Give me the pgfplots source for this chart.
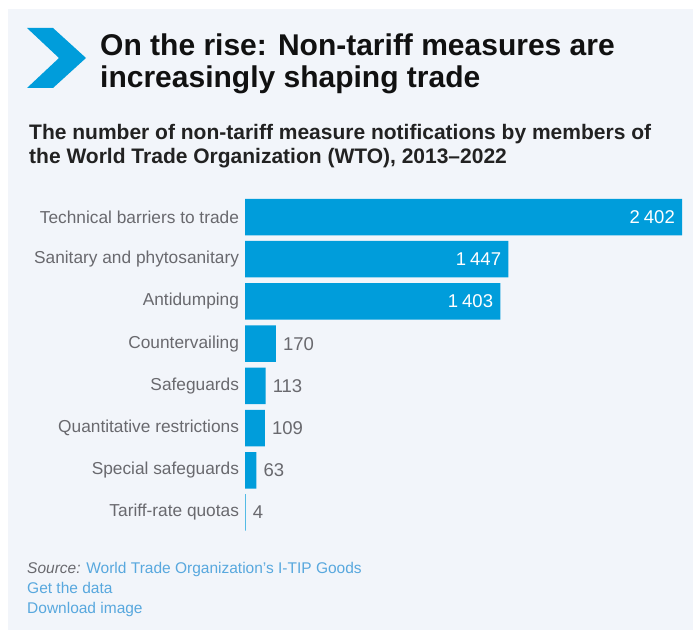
\documentclass[border=0pt]{standalone}
\usepackage{fontspec}
\setmainfont{Liberation Sans}
\usepackage{pgfplots}
\pgfplotsset{compat=1.18}
\definecolor{panel}{RGB}{242,245,250}
\definecolor{barblue}{RGB}{0,157,219}
\definecolor{labgray}{RGB}{105,105,110}
\definecolor{linkblue}{RGB}{88,168,222}
\definecolor{titleblk}{RGB}{17,17,17}
\definecolor{subblk}{RGB}{34,34,34}
\begin{document}
\begin{tikzpicture}
\useasboundingbox (0pt,0pt) rectangle (693pt,634pt);
\fill[white] (0pt,0pt) rectangle (693pt,634pt);
\fill[panel] (8pt,4pt) rectangle (693pt,624.5pt);
% chevron
\fill[barblue] (27pt,606pt) -- (53pt,606pt) -- (86pt,576pt) -- (53pt,546pt) -- (27pt,546pt) -- (59pt,576pt) -- cycle;
% title
\node[anchor=base west, inner sep=0pt, text=titleblk, font=\fontsize{30}{34}\selectfont\bfseries] at (100pt,578pt) {On the rise: Non-tariff measures are};
\node[anchor=base west, inner sep=0pt, text=titleblk, font=\fontsize{30}{34}\selectfont\bfseries] at (100pt,546pt) {increasingly shaping trade};
% subtitle
\node[anchor=base west, inner sep=0pt, text=subblk, font=\fontsize{21}{25}\selectfont\bfseries] at (29pt,494.5pt) {The number of non-tariff measure notifications by members of};
\node[anchor=base west, inner sep=0pt, text=subblk, font=\fontsize{21}{25}\selectfont\bfseries] at (29pt,470.5pt) {the World Trade Organization (WTO), 2013--2022};
% source
\node[anchor=base west, inner sep=0pt, font=\fontsize{15.5}{18}\selectfont] at (27pt,60pt) {\textcolor{labgray}{\itshape Source:} \textcolor{linkblue}{World Trade Organization’s I-TIP Goods}};
\node[anchor=base west, inner sep=0pt, text=linkblue, font=\fontsize{15.5}{18}\selectfont] at (27pt,40pt) {Get the data};
\node[anchor=base west, inner sep=0pt, text=linkblue, font=\fontsize{15.5}{18}\selectfont] at (27pt,20pt) {Download image};
\begin{axis}[
  at={(245pt,100.4pt)}, anchor=south west,
  scale only axis, width=437pt, height=337.7pt,
  xmin=0, xmax=2402, ymin=0.5, ymax=8.5,
  axis x line=none, axis y line*=left,
  y axis line style={draw=none},
  major tick length=0pt, clip=false,
  xbar, bar width=36.5pt,
  ytick={1,2,3,4,5,6,7,8},
  yticklabels={Tariff-rate quotas, Special safeguards, Quantitative restrictions, Safeguards, Countervailing, Antidumping, Sanitary and phytosanitary, Technical barriers to trade},
  yticklabel style={text=labgray, font=\fontsize{17.3}{20}\selectfont, xshift=-2.5pt},
  point meta=x,
  nodes near coords={\pgfmathprintnumber[assume math mode=true, 1000 sep={\hspace{0.22em}}]{\pgfplotspointmeta}},
]
\addplot[fill=barblue, draw=none, bar shift=0pt,
  every node near coord/.style={anchor=east, inner sep=0pt, xshift=-7pt, text=white, font=\fontsize{18.5}{20}\selectfont}]
  coordinates {(2402,8) (1447,7) (1403,6)};
\addplot[fill=barblue, draw=none, bar shift=0pt,
  every node near coord/.style={anchor=west, inner sep=0pt, xshift=7pt, text=labgray, font=\fontsize{18.5}{20}\selectfont}]
  coordinates {(170,5) (113,4) (109,3) (63,2) (4,1)};
\end{axis}
\end{tikzpicture}
\end{document}
